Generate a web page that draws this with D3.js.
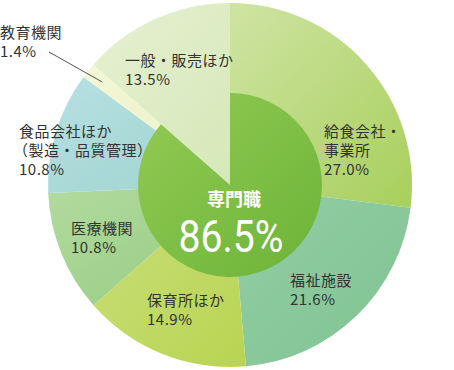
<!DOCTYPE html>
<html>
<head>
<meta charset="utf-8">
<script src="https://cdn.jsdelivr.net/npm/d3@7"></script>
<style>
  body { margin: 0; background: #fff; }
  svg text { font-family: "Noto Sans CJK JP", "Noto Sans", sans-serif; }
</style>
</head>
<body>
<svg id="chart" width="454" height="370"></svg>
<script>
// data
let categories = ["給食会社・事業所", "福祉施設", "保育所ほか", "医療機関", "食品会社ほか（製造・品質管理）", "教育機関", "一般・販売ほか"];
let values = [27.0, 21.6, 14.9, 10.8, 10.8, 1.4, 13.5];
let labelLines = [
  ["給食会社・", "事業所"],
  ["福祉施設"],
  ["保育所ほか"],
  ["医療機関"],
  ["食品会社ほか", "（製造・品質管理）"],
  ["教育機関"],
  ["一般・販売ほか"]
];
let colors = [["#cfe4a3", "#a8cf5c"], ["#94cea6", "#7fc391"], ["#cadf7a", "#b9d453"], ["#b3dba0", "#94cb80"],
              ["#b8e0e2", "#9dd3cf"], ["#f3f7d6", "#eaf1c4"], ["#e6f0d2", "#d6e8b8"]];
let innerLabel = "専門職";
let innerValue = 86.5;

let cx = 230, cy = 185, outerR = 182, innerR = 92;
// label anchor positions (x, first baseline)
let labelPos = [[324, 137], [290, 286], [147, 306], [71, 234], [19, 137], [0, 38], [125, 66]];
let lineH = 19;

let svg = d3.select("#chart");
let defs = svg.append("defs");

colors.forEach(function(c, i) {
  let g = defs.append("linearGradient")
    .attr("id", "grad" + i)
    .attr("x1", 0).attr("y1", 0).attr("x2", 1).attr("y2", 1);
  g.append("stop").attr("offset", "0%").attr("stop-color", c[0]);
  g.append("stop").attr("offset", "100%").attr("stop-color", c[1]);
});
let ig = defs.append("linearGradient")
  .attr("id", "gradInner")
  .attr("x1", 0).attr("y1", 0).attr("x2", 1).attr("y2", 1);
ig.append("stop").attr("offset", "0%").attr("stop-color", "#93cb55");
ig.append("stop").attr("offset", "100%").attr("stop-color", "#6cb338");

let pie = d3.pie().sort(null).value(function(d) { return d; });
let arcs = pie(values);

let arc = d3.arc().innerRadius(0).outerRadius(outerR);

let g = svg.append("g").attr("transform", "translate(" + cx + "," + cy + ")");

g.selectAll("path.slice")
  .data(arcs)
  .enter().append("path")
  .attr("class", "slice")
  .attr("d", arc)
  .attr("fill", function(d, i) { return "url(#grad" + i + ")"; });

// inner "専門職" part
let innerScale = d3.scaleLinear().domain([0, 100]).range([0, 2 * Math.PI]);
g.append("path")
  .attr("d", d3.arc().innerRadius(0).outerRadius(innerR)({ startAngle: 0, endAngle: innerScale(innerValue) }))
  .attr("fill", "url(#gradInner)");

// leader line for 教育機関
let eduArc = arcs[5];
let eduMid = (eduArc.startAngle + eduArc.endAngle) / 2;
let lr = 164;
g.append("line")
  .attr("x1", 49 - cx).attr("y1", 52 - cy)
  .attr("x2", lr * Math.sin(eduMid)).attr("y2", -lr * Math.cos(eduMid))
  .attr("stroke", "#555")
  .attr("stroke-width", 1);

// labels
labelLines.forEach(function(lines, i) {
  let t = svg.append("text")
    .attr("x", labelPos[i][0])
    .attr("y", labelPos[i][1])
    .attr("fill", "#333")
    .style("font-size", "15px")
    .style("letter-spacing", "0.5px");
  lines.concat([values[i].toFixed(1) + "%"]).forEach(function(s, j) {
    t.append("tspan")
      .attr("x", labelPos[i][0] + (s.charAt(0) === "（" ? -6 : 0))
      .attr("y", labelPos[i][1] + j * lineH)
      .text(s);
  });
});

// center text
svg.append("text")
  .attr("x", 234).attr("y", 206)
  .attr("text-anchor", "middle")
  .attr("fill", "#fff")
  .style("font-size", "18px")
  .style("font-weight", "bold")
  .text(innerLabel);

svg.append("text")
  .attr("x", 231).attr("y", 252)
  .attr("text-anchor", "middle")
  .attr("fill", "#fff")
  .attr("textLength", 105)
  .attr("lengthAdjust", "spacingAndGlyphs")
  .style("font-size", "44px")
  .style("font-family", "Roboto, sans-serif")
  .text(innerValue.toFixed(1) + "%");
</script>
</body>
</html>
